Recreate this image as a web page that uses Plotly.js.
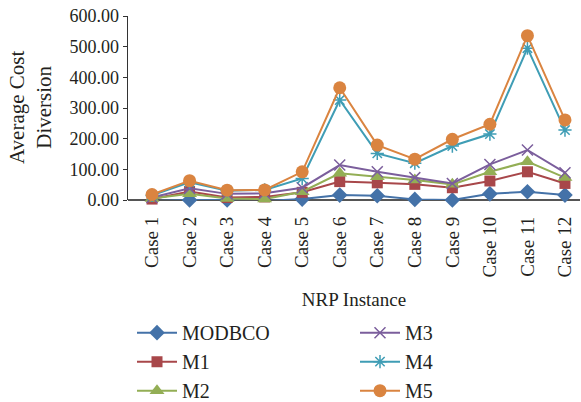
<!DOCTYPE html>
<html><head><meta charset="utf-8">
<script src="https://cdn.plot.ly/plotly-3.0.1.min.js"></script>
<style>html,body{margin:0;padding:0;background:#fff}#chart{width:581px;height:402px}</style>
</head><body><div id="chart"></div>
<script>
const categories = ["Case 1","Case 2","Case 3","Case 4","Case 5","Case 6","Case 7","Case 8","Case 9","Case 10","Case 11","Case 12"];
const MODBCO = [-3, 0, 0, -3, 3, 16, 14, 2, 0, 20, 27, 16];
const M1 = [3, 28, 8, 10, 25, 60, 56, 51, 40, 62, 92, 54];
const M2 = [5, 20, 5, 3, 27, 87, 76, 65, 51, 92, 125, 73];
const M3 = [8, 38, 20, 22, 40, 114, 92, 73, 54, 116, 163, 89];
const M4 = [15, 58, 30, 33, 70, 326, 152, 120, 176, 215, 495, 228];
const M5 = [18, 63, 32, 33, 92, 366, 179, 133, 198, 247, 536, 261];
const yTitle = "Average Cost<br>Diversion";
const xTitle = "NRP Instance";

const font = "Liberation Serif, Times New Roman, serif";
function tr(name, y, color, symbol, size, leg, open) {
  return {
    type: "scatter", mode: "lines+markers", name: name, x: categories, y: y,
    line: {color: color, width: 2},
    marker: open ? {symbol: symbol, size: size, color: color, line: {color: color, width: 1.5}}
                 : {symbol: symbol, size: size, color: color},
    legend: leg, cliponaxis: false
  };
}
const data = [
  tr("MODBCO", MODBCO, "#4472A8", "diamond", 12, "legend"),
  tr("M1", M1, "#A8474A", "square", 11, "legend"),
  tr("M2", M2, "#93AE55", "triangle-up", 13, "legend"),
  tr("M3", M3, "#7B5E9C", "x-thin-open", 11, "legend2", true),
  tr("M4", M4, "#3F9DB5", "asterisk-open", 11, "legend2", true),
  tr("M5", M5, "#DA8440", "circle", 13, "legend2")
];
const legBase = {orientation: "v", xref: "container", yref: "container", xanchor: "left", yanchor: "top",
  y: 0.221, traceorder: "normal", font: {size: 20}, itemwidth: 40, bgcolor: "rgba(0,0,0,0)"};
const layout = {
  width: 581, height: 402,
  margin: {l: 128, r: 1, t: 16, b: 202, autoexpand: false},
  paper_bgcolor: "#fff", plot_bgcolor: "#fff",
  font: {family: font, size: 18, color: "#231f20"},
  showlegend: true,
  legend: Object.assign({}, legBase, {x: 132 / 581}),
  legend2: Object.assign({}, legBase, {x: 355 / 581}),
  xaxis: {
    type: "category", range: [-0.64, 11.4], tickangle: -90, showgrid: false, showline: false, zeroline: false,
    ticks: "", automargin: false, ticklabelstandoff: 12,
    title: {text: xTitle, standoff: 16, font: {size: 19}},
    tickfont: {size: 19}
  },
  yaxis: {
    range: [0, 600], tickvals: [0,100,200,300,400,500,600], tickformat: ".2f",
    showgrid: false, showline: true, linecolor: "#333", linewidth: 1.5, ticks: "outside", ticklen: 4, tickcolor: "#333",
    zeroline: true, zerolinecolor: "#555", zerolinewidth: 2, automargin: false,
    tickfont: {size: 18}
  },
  annotations: [{
    text: yTitle, xref: "paper", yref: "paper", x: (30 - 128) / 452, y: 0.5,
    xanchor: "center", yanchor: "middle", textangle: -90, showarrow: false,
    font: {size: 21, family: font, color: "#231f20"}
  }]
};
Plotly.newPlot("chart", data, layout, {displayModeBar: false, staticPlot: true});
</script></body></html>
